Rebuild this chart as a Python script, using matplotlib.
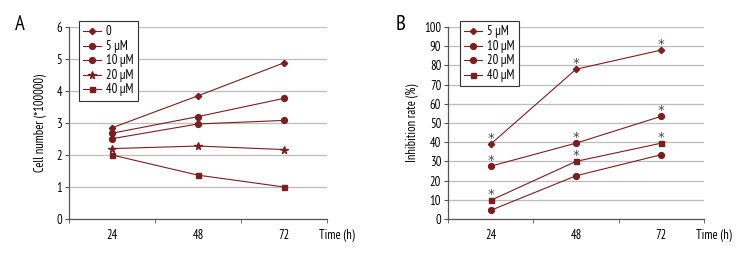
import numpy as np
import matplotlib
matplotlib.use('Agg')
import matplotlib.pyplot as plt

# data
times = ['24', '48', '72']

a_labels = ['0', '5 µM', '10 µM', '20 µM', '40 µM']
a_markers = ['D', 'o', 'o', '*', 's']
a_0 = [2.85, 3.85, 4.88]
a_5 = [2.68, 3.20, 3.77]
a_10 = [2.51, 2.97, 3.08]
a_20 = [2.20, 2.28, 2.17]
a_40 = [2.00, 1.37, 1.00]

b_labels = ['5 µM', '10 µM', '20 µM', '40 µM']
b_markers = ['D', 'o', 'o', 's']
b_5 = [39.0, 78.0, 88.0]
b_10 = [27.5, 39.5, 53.5]
b_20 = [4.5, 22.5, 33.5]
b_40 = [9.7, 30.0, 39.5]
b_stars = [True, True, False, True]

plt.rcParams['font.family'] = ['PT Sans Narrow', 'DejaVu Sans']
plt.rcParams['font.size'] = 8.5

col = '#7a1f1f'
grid = '#bdbdbd'
axcol = '#555555'

fig = plt.figure(figsize=(7.56, 2.64), dpi=100)
axA = fig.add_axes([0.0913, 0.1705, 0.3412, 0.7272])
axB = fig.add_axes([0.5926, 0.1705, 0.3386, 0.7272])


def style_ax(ax, ymax, ystep):
    x = np.arange(len(times))
    ax.set_xlim(-0.5, len(times) - 0.5)
    ax.set_ylim(0, ymax)
    ax.set_yticks(np.arange(0, ymax + 0.01, ystep))
    ax.set_xticks(x)
    ax.set_xticklabels(times)
    ax.set_xticks(np.arange(-0.5, len(times), 1), minor=True)
    ax.tick_params(axis='x', which='major', length=0, pad=7, labelsize=9)
    ax.tick_params(axis='x', which='minor', length=3, color=axcol, direction='out')
    ax.tick_params(axis='y', length=3, color=axcol, pad=2, labelsize=9)
    ax.yaxis.grid(True, color=grid, linewidth=0.9)
    ax.set_axisbelow(True)
    for s in ['top', 'right']:
        ax.spines[s].set_visible(False)
    for s in ['left', 'bottom']:
        ax.spines[s].set_color(axcol)
        ax.spines[s].set_linewidth(0.9)


def size_of(m):
    return {'D': 3.2, 'o': 4.2, '*': 5.5, 's': 3.6}[m]


def add_legend(ax, xa):
    leg = ax.legend(loc='upper left', bbox_to_anchor=(xa, 1.031), borderaxespad=0,
                    frameon=True, fancybox=False, edgecolor='#333333', framealpha=1,
                    handlelength=1.4, handletextpad=0.4, labelspacing=0.12,
                    borderpad=0.35, fontsize=9)
    leg.get_frame().set_linewidth(0.8)
    return leg


# panel A
x = np.arange(len(times))
for vals, lab, m in zip([a_0, a_5, a_10, a_20, a_40], a_labels, a_markers):
    axA.plot(x, vals, color=col, linewidth=0.8, marker=m, markersize=size_of(m), label=lab)
style_ax(axA, 6, 1)
axA.set_ylabel('Cell number (*100000)', labelpad=7, fontsize=9)
add_legend(axA, 0.039)

# panel B
for vals, lab, m, st in zip([b_5, b_10, b_20, b_40], b_labels, b_markers, b_stars):
    axB.plot(x, vals, color=col, linewidth=0.8, marker=m, markersize=size_of(m), label=lab)
    if st:
        for xi, v in zip(x, vals):
            axB.annotate('*', (xi, v), xytext=(0, 1.8), textcoords='offset points',
                         ha='center', va='baseline', fontsize=9.5, color='#444444',
                         family='DejaVu Sans')
style_ax(axB, 100, 10)
axB.set_ylabel('Inhibition rate (%)', labelpad=4, fontsize=9)
add_legend(axB, 0.047)

# panel letters and x labels
fig.text(20 / 756, 1 - 25 / 264, 'A', fontsize=15, ha='center', va='center')
fig.text(401 / 756, 1 - 25 / 264, 'B', fontsize=15, ha='center', va='center')
fig.text(319 / 756, 1 - 235 / 264, 'Time (h)', ha='left', va='center', fontsize=9)
fig.text(696 / 756, 1 - 235 / 264, 'Time (h)', ha='left', va='center', fontsize=9)

fig.savefig('out.png', dpi=100, facecolor='white')
